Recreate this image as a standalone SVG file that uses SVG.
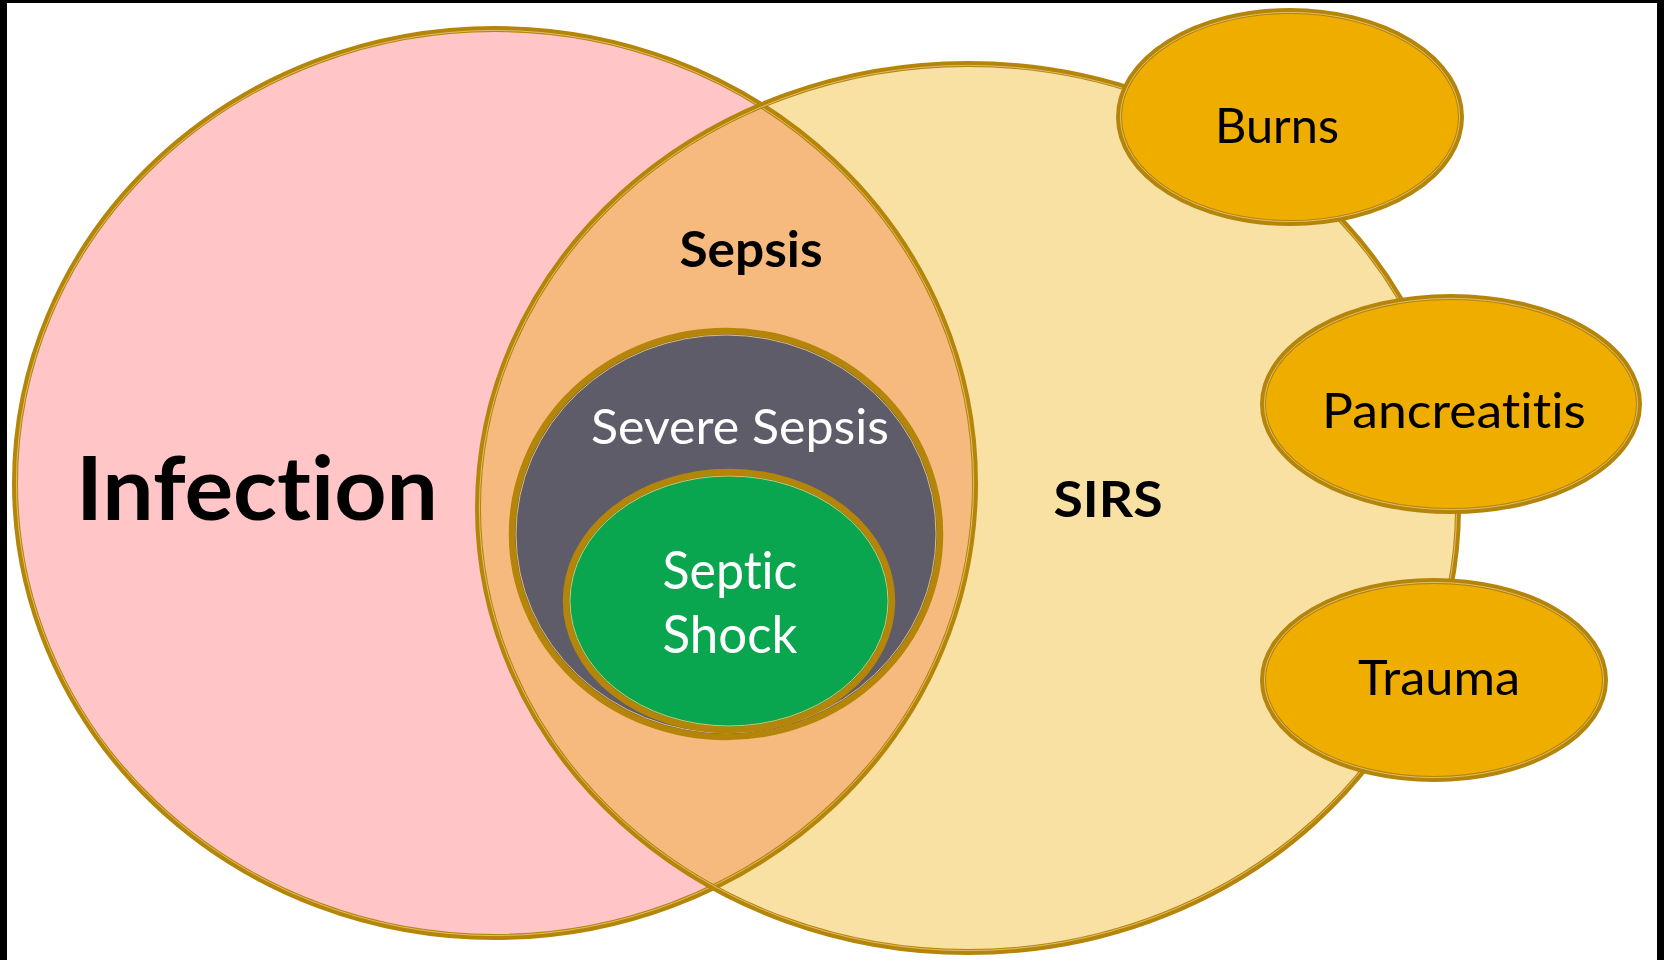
<svg xmlns="http://www.w3.org/2000/svg" width="1664" height="960" viewBox="0 0 1664 960">
<style>
.ring{fill:none;stroke:#B5850A;stroke-width:6}
.hl{fill:none;stroke:#E2BD6A;stroke-width:1}
.lbl{font-family:Lato,"Open Sans","Liberation Sans",sans-serif;text-anchor:middle;font-variant-ligatures:none;font-feature-settings:"liga" 0}
.b{font-weight:bold;fill:#000}
.w{fill:#fff}
.k{fill:#000}
</style>
<defs>
<clipPath id="pinkClip"><ellipse cx="495" cy="483" rx="480" ry="454"/></clipPath>
</defs>
<rect x="0" y="0" width="1664" height="960" fill="#fff"/>
<rect x="0" y="0" width="7" height="960" fill="#000"/>
<rect x="0" y="0" width="1664" height="3" fill="#000"/>
<rect x="1657" y="0" width="7" height="960" fill="#000"/>

<g id="infection">
<ellipse cx="495" cy="483" rx="480" ry="454" fill="#FFC5C7"/>
</g>
<g id="sirs">
<ellipse cx="968" cy="508" rx="490" ry="444" fill="#F9E0A3"/>
</g>
<g id="sepsis">
<ellipse cx="968" cy="508" rx="490" ry="444" fill="#F7BA7E" clip-path="url(#pinkClip)"/>
</g>
<g id="outlines">
<ellipse class="ring" cx="495" cy="483" rx="480" ry="454"/>
<ellipse class="hl" cx="495" cy="483" rx="478.6" ry="452.6"/>
<ellipse class="ring" cx="968" cy="508" rx="490" ry="444"/>
<ellipse class="hl" cx="968" cy="508" rx="488.6" ry="442.6"/>
</g>
<g id="severe-sepsis">
<ellipse cx="726" cy="534" rx="214" ry="203" fill="#5F5C6A" stroke="#B5850A" stroke-width="6.5"/>
<ellipse class="hl" cx="726" cy="534" rx="210" ry="199" stroke="#A48838"/>
<text class="lbl w" x="740" y="444" font-size="48" textLength="298" lengthAdjust="spacingAndGlyphs">Severe Sepsis</text>
</g>
<g id="septic-shock">
<ellipse cx="729" cy="601" rx="163" ry="129" fill="#0AA64F" stroke="#B5850A" stroke-width="6.5"/>
<ellipse class="hl" cx="729" cy="601" rx="159" ry="125" stroke="#72A03C"/>
<text class="lbl w" x="730" y="589" font-size="52" textLength="135" lengthAdjust="spacingAndGlyphs">Septic</text>
<text class="lbl w" x="730" y="653" font-size="52" textLength="135" lengthAdjust="spacingAndGlyphs">Shock</text>
</g>
<g id="labels">
<text class="lbl b" x="257" y="520" font-size="88" textLength="362" lengthAdjust="spacingAndGlyphs">Infection</text>
<text class="lbl b" x="751" y="267" font-size="50" textLength="143" lengthAdjust="spacingAndGlyphs">Sepsis</text>
<text class="lbl b" x="1108" y="517" font-size="50" textLength="109" lengthAdjust="spacingAndGlyphs">SIRS</text>
</g>
<g id="burns">
<ellipse cx="1290" cy="117" rx="171" ry="106" fill="#EFAD00" stroke="#B5850A" stroke-width="6"/>
<ellipse class="hl" cx="1290" cy="117" rx="169.6" ry="104.6" stroke="#D6A532"/>
<text class="lbl k" x="1277" y="143" font-size="48" textLength="124" lengthAdjust="spacingAndGlyphs">Burns</text>
</g>
<g id="pancreatitis">
<ellipse cx="1451" cy="404" rx="188" ry="107" fill="#EFAD00" stroke="#B5850A" stroke-width="6"/>
<ellipse class="hl" cx="1451" cy="404" rx="186.6" ry="105.6" stroke="#D6A532"/>
<text class="lbl k" x="1454" y="428" font-size="48" textLength="264" lengthAdjust="spacingAndGlyphs">Pancreatitis</text>
</g>
<g id="trauma">
<ellipse cx="1434" cy="680" rx="171" ry="99" fill="#EFAD00" stroke="#B5850A" stroke-width="6"/>
<ellipse class="hl" cx="1434" cy="680" rx="169.6" ry="97.6" stroke="#D6A532"/>
<text class="lbl k" x="1439" y="695" font-size="48" textLength="162" lengthAdjust="spacingAndGlyphs">Trauma</text>
</g>
</svg>
